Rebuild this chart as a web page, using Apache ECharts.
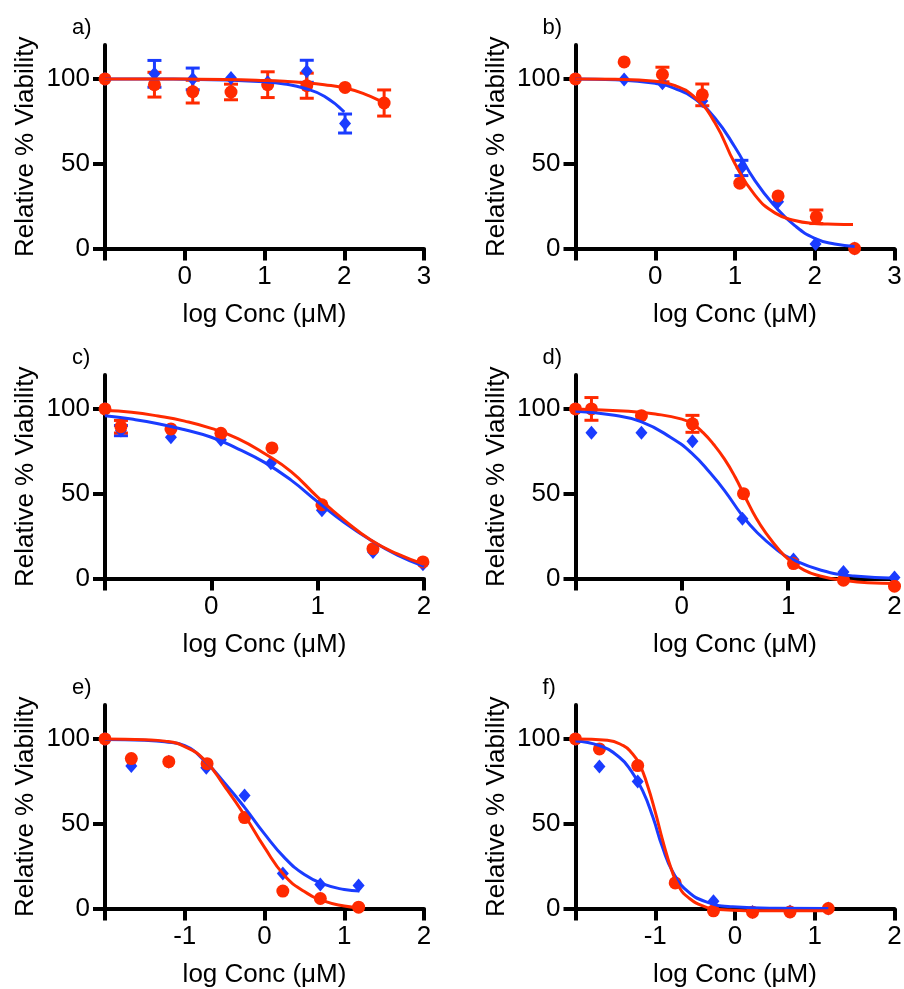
<!DOCTYPE html>
<html>
<head>
<meta charset="utf-8">
<script src="https://cdn.jsdelivr.net/npm/echarts@6/dist/echarts.min.js"></script>
<style>
  html, body { margin: 0; padding: 0; background: #fff; }
  #chart { width: 904px; height: 989px; }
</style>
</head>
<body>
<div id="chart"></div>
<script>
// Panel labels and axis ticks
var panelNames = ["a)", "b)", "c)", "d)", "e)", "f)"];
var xRanges = [[-1, 3], [-1, 3], [-1, 2], [-1, 2], [-2, 2], [-2, 2]];
var xTickLabels = [[0, 1, 2, 3], [0, 1, 2, 3], [0, 1, 2], [0, 1, 2], [-1, 0, 1, 2], [-1, 0, 1, 2]];
var yTickLabels = [0, 50, 100];

// Measured points: [log conc, % viability, error]  (error 0 = no bar)
var aRed = [[-1, 100, 0], [-0.38, 96.6, 7.3], [0.10, 92.5, 6.7], [0.58, 92.3, 4.6], [1.04, 96.6, 7.6], [1.53, 96, 7.4], [2.01, 95, 0], [2.50, 85.8, 7.7]];
var aBlue = [[-1, 100, 0], [-0.38, 103, 7.9], [0.10, 100, 6.4], [0.58, 100.5, 0], [1.04, 98, 0], [1.53, 104.5, 6.5], [2.01, 73.7, 5.6]];
var bRed = [[-1, 100, 0], [-0.39, 110, 0], [0.09, 102.6, 4.3], [0.59, 90.6, 6.4], [1.06, 38.5, 0], [1.54, 31, 0], [2.02, 18.7, 4], [2.5, 0, 0]];
var bBlue = [[-1, 100, 0], [-0.39, 99.6, 0], [0.09, 97.5, 0], [0.59, 87, 0], [1.08, 47.5, 4.5], [1.54, 27.6, 0], [2.01, 2.6, 0], [2.5, 0, 0]];
var cRed = [[-1, 100, 0], [-0.85, 89.5, 3.7], [-0.38, 88.2, 0], [0.09, 85.6, 0], [0.57, 77, 0], [1.04, 43.5, 0], [1.52, 17.6, 0], [1.99, 9.8, 0]];
var cBlue = [[-1, 100, 0], [-0.85, 87.2, 3], [-0.38, 83.3, 0], [0.09, 81.8, 0], [0.56, 68, 0], [1.04, 40.2, 0], [1.52, 15.7, 0], [1.99, 8.4, 0]];
var dRed = [[-1, 100, 0], [-0.85, 100, 6.7], [-0.38, 96, 0], [0.10, 91.2, 5], [0.58, 50, 0], [1.05, 8.8, 0], [1.52, -1, 0], [2.0, -4.5, 0]];
var dBlue = [[-1, 100, 0], [-0.85, 85.9, 0], [-0.38, 85.9, 0], [0.10, 81, 0], [0.57, 35.3, 0], [1.05, 11.2, 0], [1.52, 3.9, 0], [2.0, 0.6, 0]];
var eRed = [[-2, 100, 0], [-1.67, 88.4, 0], [-1.2, 86.6, 0], [-0.72, 85.4, 0], [-0.25, 53.6, 0], [0.23, 10.3, 0], [0.70, 5.9, 0], [1.18, 0.8, 0]];
var eBlue = [[-2, 100, 0], [-1.67, 84, 0], [-1.2, 86.6, 0], [-0.73, 83, 0], [-0.25, 66.7, 0], [0.23, 20.7, 0], [0.70, 14.2, 0], [1.18, 13.6, 0]];
var fRed = [[-2, 100, 0], [-1.70, 94.1, 0], [-1.22, 84.3, 0], [-0.75, 15.1, 0], [-0.27, -1.4, 0], [0.22, -2.2, 0], [0.69, -2, 0], [1.17, 0, 0]];
var fBlue = [[-2, 100, 0], [-1.70, 83.7, 0], [-1.22, 74.9, 0], [-0.75, 16, 0], [-0.27, 4.3, 0], [0.22, -2, 0], [0.69, -1.8, 0], [1.17, 0, 0]];

// Fitted curves
var aRedFit = [[-1, 100], [-0.5, 100], [0, 99.9], [0.5, 99.7], [1, 99.1], [1.25, 98.6], [1.5, 97.8], [1.75, 96.6], [2, 94.8], [2.25, 91.2], [2.5, 85.9], [2.55, 84.6]];
var aBlueFit = [[-1, 100], [-0.5, 100], [0, 99.8], [0.5, 99.4], [1, 98.3], [1.25, 97], [1.5, 94.5], [1.75, 89.8], [2.0, 80.5]];
var bRedFit = [[-1, 100], [-0.5, 99.8], [0, 98.6], [0.25, 96], [0.5, 89], [0.75, 74], [1, 50], [1.25, 31.5], [1.5, 21], [1.75, 16.5], [2, 14.8], [2.25, 14.3], [2.48, 14.1]];
var bBlueFit = [[-1, 100], [-0.5, 99.5], [0, 97.4], [0.25, 94.3], [0.5, 88.1], [0.75, 76.8], [1, 59.7], [1.25, 40], [1.5, 25], [1.75, 13.5], [2, 6], [2.25, 2.6], [2.5, 1.2]];
var cRedFit = [[-1, 99], [-0.75, 98], [-0.5, 95.8], [-0.25, 92.8], [0, 88.5], [0.25, 82.5], [0.5, 73.7], [0.75, 63], [1, 48], [1.25, 34.4], [1.5, 22.7], [1.75, 14.5], [2, 8.4]];
var cBlueFit = [[-1, 96], [-0.75, 94], [-0.5, 91.3], [-0.25, 87.7], [0, 83.3], [0.25, 76.5], [0.5, 68.5], [0.75, 58], [1, 45.2], [1.25, 33], [1.5, 22.5], [1.75, 13.8], [2, 7.2]];
var dRedFit = [[-1, 100], [-0.5, 98.6], [-0.25, 97], [0, 94], [0.1, 91.2], [0.2, 86], [0.3, 79], [0.4, 70.5], [0.5, 60], [0.6, 47.5], [0.7, 35.5], [0.8, 26], [0.9, 18], [1, 11.5], [1.15, 4.9], [1.3, 1.5], [1.5, -0.9], [1.75, -2.5], [2.06, -2.9]];
var dBlueFit = [[-1, 98.6], [-0.67, 96.6], [-0.385, 92.5], [-0.1, 83], [0.1, 73.5], [0.27, 62], [0.4, 52], [0.57, 37], [0.71, 27], [0.9, 16.6], [1.02, 11.8], [1.31, 4.9], [1.62, 1.5], [2.06, 0.2]];
var eRedFit = [[-2, 100], [-1.5, 99.5], [-1.25, 98.7], [-1, 95.5], [-0.75, 87.5], [-0.5, 72], [-0.25, 55], [0, 36], [0.25, 19.5], [0.5, 10], [0.75, 4.3], [1, 1.5], [1.19, 0.5]];
var eBlueFit = [[-2, 99.6], [-1.5, 99.2], [-1.25, 98.3], [-1, 96], [-0.75, 87], [-0.5, 74], [-0.25, 59.6], [0, 44], [0.25, 30], [0.5, 20], [0.75, 14.2], [1, 11.2], [1.19, 10.3]];
var fRedFit = [[-2, 100], [-1.6, 99.2], [-1.4, 96], [-1.3, 92], [-1.2, 85.3], [-1.1, 73], [-1, 57], [-0.9, 39], [-0.8, 23.5], [-0.7, 12.5], [-0.57, 5.9], [-0.4, 1.5], [-0.2, -0.6], [0.2, -1.3], [0.7, -1.4], [1.2, -1.4]];
var fBlueFit = [[-2, 98.8], [-1.7, 96], [-1.45, 89.2], [-1.3, 81], [-1.16, 69.6], [-1.03, 53.9], [-0.91, 36.2], [-0.78, 21.5], [-0.61, 10.8], [-0.36, 3.9], [-0.03, 1], [0.5, 0.1], [1.17, 0]];

var redPts = [aRed, bRed, cRed, dRed, eRed, fRed];
var bluePts = [aBlue, bBlue, cBlue, dBlue, eBlue, fBlue];
var redFits = [aRedFit, bRedFit, cRedFit, dRedFit, eRedFit, fRedFit];
var blueFits = [aBlueFit, bBlueFit, cBlueFit, dBlueFit, eBlueFit, fBlueFit];

var RED = "#ff2a00";
var BLUE = "#1a3cff";
var FONT = "Liberation Sans";

// layout of the 3x2 grid
var colLeft = [105, 575.5];
var rowTop = [45, 375, 705];
var plotW = 319;
var plotH = 203.5;

var chart = echarts.init(document.getElementById("chart"));

function errBars(color) {
  return function (params, api) {
    var x = api.value(0), y = api.value(1), e = api.value(2);
    if (!e) return;
    var top = api.coord([x, y + e]);
    var bot = api.coord([x, y - e]);
    var w = 7;
    var st = { stroke: color, lineWidth: 3 };
    return {
      type: "group",
      children: [
        { type: "line", shape: { x1: top[0], y1: top[1], x2: bot[0], y2: bot[1] }, style: st },
        { type: "line", shape: { x1: top[0] - w, y1: top[1], x2: top[0] + w, y2: top[1] }, style: st },
        { type: "line", shape: { x1: bot[0] - w, y1: bot[1], x2: bot[0] + w, y2: bot[1] }, style: st }
      ]
    };
  };
}

var grids = [], xAxes = [], yAxes = [], series = [], titles = [];

for (var i = 0; i < 6; i++) {
  var col = i % 2, row = Math.floor(i / 2);
  grids.push({ left: colLeft[col], top: rowTop[row], width: plotW, height: plotH, outerBoundsMode: "none" });

  var xt = [];
  for (var v = xRanges[i][0]; v <= xRanges[i][1]; v++) xt.push(v);

  xAxes.push({
    type: "value", gridIndex: i, min: xRanges[i][0], max: xRanges[i][1],
    name: "log Conc (\u03bcM)", nameLocation: "middle", nameGap: 53,
    nameTextStyle: { fontFamily: FONT, fontSize: 26, color: "#000" },
    axisLine: { onZero: false, lineStyle: { color: "#000", width: 4 } },
    axisTick: { length: 12, lineStyle: { color: "#000", width: 4 }, customValues: xt },
    axisLabel: { margin: 15, fontFamily: FONT, fontSize: 26, color: "#000", customValues: xTickLabels[i] },
    splitLine: { show: false }
  });
  yAxes.push({
    type: "value", gridIndex: i, min: 0, max: 120,
    name: "Relative % Viability", nameLocation: "middle", nameGap: 66,
    nameTextStyle: { fontFamily: FONT, fontSize: 26, color: "#000" },
    axisLine: { onZero: false, lineStyle: { color: "#000", width: 4 } },
    axisTick: { length: 12, lineStyle: { color: "#000", width: 4 }, customValues: yTickLabels },
    axisLabel: { margin: 15, fontFamily: FONT, fontSize: 26, color: "#000", customValues: yTickLabels },
    splitLine: { show: false }
  });
  titles.push({
    text: panelNames[i], left: colLeft[col] - 33, top: rowTop[row] - 28, padding: 0,
    textStyle: { fontFamily: FONT, fontSize: 22, fontWeight: "normal", color: "#000" }
  });

  series.push(
    { type: "line", xAxisIndex: i, yAxisIndex: i, data: blueFits[i], smooth: true, showSymbol: false, clip: false,
      lineStyle: { color: BLUE, width: 3 }, silent: true },
    { type: "custom", xAxisIndex: i, yAxisIndex: i, data: bluePts[i], renderItem: errBars(BLUE), encode: { x: 0, y: 1 }, clip: false },
    { type: "scatter", xAxisIndex: i, yAxisIndex: i, data: bluePts[i], symbol: "diamond", symbolSize: [12, 14], clip: false,
      itemStyle: { color: BLUE, opacity: 1 } },
    { type: "line", xAxisIndex: i, yAxisIndex: i, data: redFits[i], smooth: true, showSymbol: false, clip: false,
      lineStyle: { color: RED, width: 3 }, silent: true },
    { type: "custom", xAxisIndex: i, yAxisIndex: i, data: redPts[i], renderItem: errBars(RED), encode: { x: 0, y: 1 }, clip: false },
    { type: "scatter", xAxisIndex: i, yAxisIndex: i, data: redPts[i], symbol: "circle", symbolSize: 13, clip: false,
      itemStyle: { color: RED, opacity: 1 } }
  );
}

chart.setOption({
  animation: false,
  title: titles,
  grid: grids,
  xAxis: xAxes,
  yAxis: yAxes,
  series: series
});
</script>
</body>
</html>
